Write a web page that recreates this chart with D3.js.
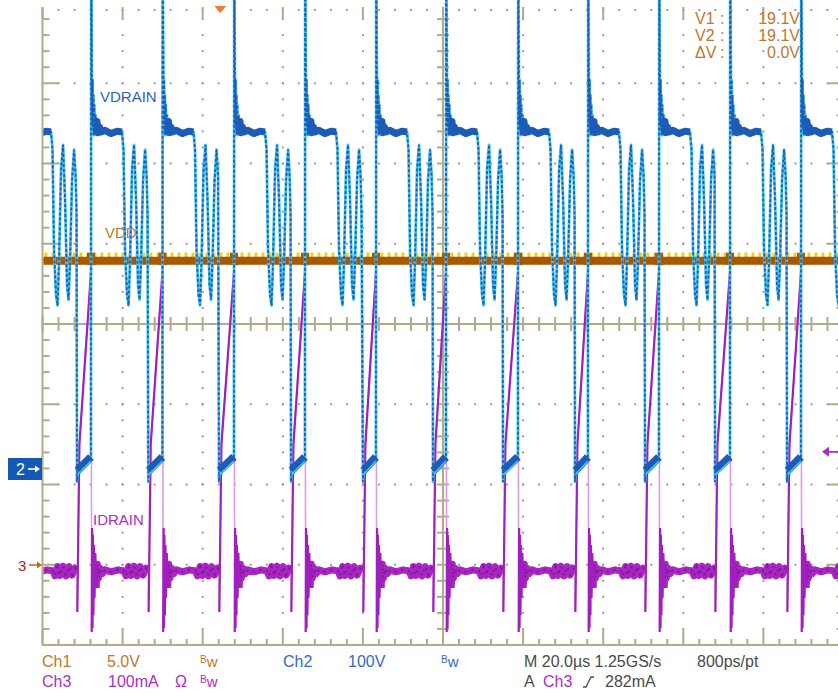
<!DOCTYPE html>
<html>
<head>
<meta charset="utf-8">
<script src="https://cdn.jsdelivr.net/npm/d3@7"></script>
<style>
  html, body { margin: 0; padding: 0; background: #fff; }
  svg { display: block; font-family: "Liberation Sans", Arial, sans-serif; }
</style>
</head>
<body>
<svg id="scope" width="838" height="693"></svg>
<script>
// ---------------- acquisition data ----------------
// time in µs from the left edge of the screen (20 µs/div, 10 div)
const switchOffTimes = [-5.62, 12.11, 29.96, 47.82, 65.54, 83.27, 100.75, 118.73, 136.20, 153.93, 171.66, 189.39, 207.10];
const switchOnTimes  = [8.61, 26.42, 44.07, 62.05, 80.02, 97.50, 114.98, 132.96, 150.44, 167.92, 185.90, 203.62];

// Ch2 VDRAIN after each switch-off: offset (µs) and volts
const drainOffset = [0.05, 0.2, 0.3, 0.4, 0.5, 0.6, 0.7, 0.82, 0.95, 1.12, 1.3, 1.5, 1.75, 2.12, 2.5, 3.5, 5.0, 6.5, 7.75, 8.12, 8.5, 9.0, 9.38, 9.75, 10.25, 10.75, 11.25, 11.75, 12.12, 12.5, 13.0, 13.5, 13.88, 14.12];
const drainVolts  = [650, 510, 429, 485, 422, 466, 416, 454, 419, 441, 417, 433, 419, 426, 420, 422, 418, 421, 420, 398, 273, 217, 204, 260, 373, 404, 335, 229, 211, 260, 360, 398, 366, 317];
const drainPlateau = [1.25, 8.0];            // clamped flat top, µs after switch-off
const drainOnState = [-16, -2, 15];          // V: turn-on undershoot, start and end of conduction

// Ch3 IDRAIN after each switch-off: offset (µs) and mA
const currentOffset = [0.075, 0.175, 0.275, 0.375, 0.475, 0.6, 0.725, 0.875, 1.075, 1.3, 1.575, 1.875, 2.25, 2.75, 3.5, 5.0, 6.75, 8.25, 8.75, 9.375, 10.0, 10.75, 11.5, 12.25, 13.0, 13.75];
const currentMilliamps = [411, -167, 92, -157, 75, -125, 50, -82, 30, -57, 2, -32, -8, -22, -12, -17, -12, -15, -27, -4, -26, -3, -27, -4, -25, -8];
// mA: before turn-on, leading-edge spike, end of fast rise, ramp peak
const currentOnState = [-10, -117, 300, 728];
const currentRiseTime = 0.6;                 // µs after turn-on

// Ch1 VDD
const supplyLevel = 18.95;                   // V
const supplyKick = [19.45, 18.7];            // V at each switch-off
const cursorLevel = 19.1;                    // V1 = V2

// trigger
const triggerTime = 44.4;                    // µs
const triggerLevel = 282;                    // mA

// readouts
const cursorRows = [["V1", "19.1V"], ["V2", "19.1V"], ["ΔV", "0.0V"]];
const settingsRow1 = [
  { x: 42,  text: "Ch1", color: "#c0772f" },
  { x: 107, text: "5.0V", color: "#c0772f" },
  { x: 283, text: "Ch2", color: "#2f6cc4" },
  { x: 348, text: "100V", color: "#2f6cc4" },
  { x: 524, text: "M 20.0µs 1.25GS/s", color: "#4a4a4a" },
  { x: 697, text: "800ps/pt", color: "#4a4a4a" }
];
const settingsRow2 = [
  { x: 42,  text: "Ch3", color: "#ae2ec6" },
  { x: 108, text: "100mA", color: "#ae2ec6" },
  { x: 175, text: "Ω", color: "#ae2ec6" },
  { x: 524, text: "A", color: "#4a4a4a" },
  { x: 543, text: "Ch3", color: "#ae2ec6" },
  { x: 605, text: "282mA", color: "#4a4a4a" }
];
const bwMarks = [
  { x: 200, row: 0, color: "#c0772f" },
  { x: 441, row: 0, color: "#2f6cc4" },
  { x: 200, row: 1, color: "#ae2ec6" }
];

// ---------------- layout ----------------
const X0 = 42.5, X1 = 843.5, Y0 = 3, Y1 = 645;
const divX = (X1 - X0) / 10, divY = (Y1 - Y0) / 8;
const tan = "#b3aa8b", dotCol = "#9c9c9c";

const x = d3.scaleLinear().domain([0, 200]).range([X0, X1]);
const yCh1 = d3.scaleLinear().domain([0, 5]).range([565, 565 - divY]);     // 5 V/div
const yCh2 = d3.scaleLinear().domain([0, 100]).range([469, 469 - divY]);   // 100 V/div
const yCh3 = d3.scaleLinear().domain([0, 200]).range([565, 565 - divY]);   // ref. 200 mA/div

const svg = d3.select("#scope");

// ---------------- graticule ----------------
const grid = svg.append("g");
const xMinor = d3.range(0, 51).map(i => X0 + i * divX / 5);
const yMinor = d3.range(0, 41).map(i => Y0 + i * divY / 5);
const cx = X0 + 5 * divX, cy = Y0 + 4 * divY;

// dotted division lines
const dots = [];
for (let i = 1; i < 10; i++) if (i !== 5) yMinor.forEach(yy => { if (yy > 6) dots.push([X0 + i * divX, yy]); });
for (let j = 1; j < 8; j++) if (j !== 4) xMinor.forEach(xx => dots.push([xx, Y0 + j * divY]));
grid.selectAll("rect.dot").data(dots).join("rect").attr("class", "dot")
  .attr("x", d => d[0] - 1).attr("y", d => d[1] - 1).attr("width", 2).attr("height", 2).attr("fill", dotCol);

// top edge marks
grid.selectAll("rect.top").data(xMinor).join("rect").attr("class", "top")
  .attr("x", d => d - 1).attr("y", 9).attr("width", 2).attr("height", 2).attr("fill", dotCol);
grid.selectAll("line.topMaj").data(d3.range(0, 11)).join("line").attr("class", "topMaj")
  .attr("x1", i => X0 + i * divX).attr("x2", i => X0 + i * divX).attr("y1", 7).attr("y2", 18)
  .attr("stroke", tan).attr("stroke-width", 2);

// left / bottom borders, right edge ticks
grid.append("line").attr("x1", X0).attr("x2", X0).attr("y1", 7).attr("y2", Y1).attr("stroke", tan).attr("stroke-width", 2);
grid.append("line").attr("x1", X0).attr("x2", X1).attr("y1", Y1).attr("y2", Y1).attr("stroke", tan).attr("stroke-width", 2);
yMinor.forEach((yy, i) => {
  if (yy < 8) return;
  const major = i % 5 === 0;
  grid.append("line").attr("x1", X0).attr("x2", X0 + (major ? 16 : 7)).attr("y1", yy).attr("y2", yy).attr("stroke", tan).attr("stroke-width", 2);
  grid.append("line").attr("x1", X1).attr("x2", X1 - (major ? 16 : 7)).attr("y1", yy).attr("y2", yy).attr("stroke", tan).attr("stroke-width", 2);
});
xMinor.forEach((xx, i) => {
  const major = i % 5 === 0;
  grid.append("line").attr("x1", xx).attr("x2", xx).attr("y1", Y1).attr("y2", Y1 - (major ? 15 : 6)).attr("stroke", tan).attr("stroke-width", 2);
});

// centre cross with ticks
grid.append("line").attr("x1", cx).attr("x2", cx).attr("y1", 7).attr("y2", Y1).attr("stroke", tan).attr("stroke-width", 2);
grid.append("line").attr("x1", X0).attr("x2", X1).attr("y1", cy).attr("y2", cy).attr("stroke", tan).attr("stroke-width", 2);
yMinor.forEach(yy => { if (yy > 8) grid.append("line").attr("x1", cx - 6).attr("x2", cx + 6).attr("y1", yy).attr("y2", yy).attr("stroke", tan).attr("stroke-width", 2); });
xMinor.forEach(xx => grid.append("line").attr("x1", xx).attr("x2", xx).attr("y1", cy - 7).attr("y2", cy + 7).attr("stroke", tan).attr("stroke-width", 2));

// ---------------- trace labels ----------------
svg.append("text").attr("x", 100).attr("y", 102).attr("font-size", 15).attr("fill", "#2f63be").text("VDRAIN");
svg.append("text").attr("x", 105).attr("y", 238).attr("font-size", 15).attr("fill", "#c0772f").text("VDD");
svg.append("text").attr("x", 93).attr("y", 525).attr("font-size", 15).attr("fill", "#ae2ec6").text("IDRAIN");

// ---------------- traces ----------------
svg.append("clipPath").attr("id", "screen").append("rect")
  .attr("x", X0 + 1).attr("y", 0).attr("width", X1 - X0).attr("height", Y1 - 1);
const traces = svg.append("g").attr("clip-path", "url(#screen)");

const lineCh1 = d3.line().x(d => x(d[0])).y(d => yCh1(d[1]));
const lineCh2 = d3.line().x(d => x(d[0])).y(d => yCh2(d[1]));
const lineCh3 = d3.line().x(d => x(d[0])).y(d => yCh3(d[1]));

// Ch1 supply with a small kick at each switch-off
const supply = [[-10, supplyLevel]];
switchOffTimes.forEach(t => {
  supply.push([t - 0.05, supplyLevel], [t, supplyKick[0]], [t + 0.08, supplyKick[1]], [t + 0.2, supplyLevel]);
});
supply.push([210, supplyLevel]);

// cursors V1/V2 (both at the same level) drawn under the supply trace
traces.append("path").attr("d", lineCh1([[-10, cursorLevel], [210, cursorLevel]]))
  .attr("fill", "none").attr("stroke", "#f0d21c").attr("stroke-width", 12).attr("stroke-dasharray", "3,4");
traces.append("path").attr("d", lineCh1(supply)).attr("fill", "none")
  .attr("stroke", "#a95700").attr("stroke-width", 8);

// build Ch2 and Ch3 cycles
const drain = [], drainTops = [], drainOn = [];
const current = [], currentRing = [], currentBase = [], currentRamp = [];
switchOnTimes.forEach((tOn, i) => {
  const tOff = switchOffTimes[i], tNext = switchOffTimes[i + 1];
  const top = [];
  drainOffset.forEach((o, k) => {
    if (tOff + o < tOn - 0.03) {
      drain.push([tOff + o, drainVolts[k]]);
      if (o >= drainPlateau[0] && o <= drainPlateau[1]) top.push([tOff + o, drainVolts[k]]);
    }
  });
  drainTops.push(top);
  drain.push([tOn, drainOnState[0]], [tOn + 0.12, drainOnState[1]], [tNext - 0.02, drainOnState[2]]);
  drainOn.push([[tOn + 0.12, drainOnState[1]], [tNext - 0.02, drainOnState[2]]]);

  const ring = [], base = [];
  currentOffset.forEach((o, k) => {
    if (tOff + o < tOn - 0.03) {
      current.push([tOff + o, currentMilliamps[k]]);
      if (o >= 0.15 && o <= 1.3) ring.push([tOff + o, currentMilliamps[k]]);
      if (o >= 1.3) base.push([tOff + o, currentMilliamps[k]]);
    }
  });
  base.push([tOn, currentOnState[0]]);
  currentRing.push(ring);
  currentBase.push(base);
  const ramp = [[tOn + 0.08, currentOnState[1]], [tOn + currentRiseTime, currentOnState[2]], [tNext - 0.02, currentOnState[3]]];
  current.push([tOn, currentOnState[0]], ...ramp);
  currentRamp.push(ramp);
});

// Ch3 IDRAIN
traces.append("path").attr("d", lineCh3(current)).attr("fill", "none")
  .attr("stroke", "#dc9cea").attr("stroke-width", 1.6);
traces.selectAll("path.base").data(currentBase).join("path").attr("class", "base")
  .attr("d", lineCh3).attr("fill", "none").attr("stroke", "#a826c2").attr("stroke-width", 7)
  .attr("stroke-linejoin", "round");
traces.selectAll("path.base2").data(currentBase).join("path").attr("class", "base2")
  .attr("d", lineCh3).attr("fill", "none").attr("stroke", "#7e1696").attr("stroke-width", 2)
  .attr("stroke-dasharray", "2,5");
traces.selectAll("path.ring").data(currentRing).join("path").attr("class", "ring")
  .attr("d", lineCh3).attr("fill", "none").attr("stroke", "#a21fbf").attr("stroke-width", 2.2);
traces.selectAll("path.ramp").data(currentRamp).join("path").attr("class", "ramp")
  .attr("d", lineCh3).attr("fill", "none").attr("stroke", "#a21fbf").attr("stroke-width", 2.2);

// Ch2 VDRAIN
traces.append("path").attr("d", lineCh2(drain)).attr("fill", "none")
  .attr("stroke", "#43c6ec").attr("stroke-width", 2.8).attr("stroke-linejoin", "round");
traces.append("path").attr("d", lineCh2(drain)).attr("fill", "none")
  .attr("stroke", "#1d5cb8").attr("stroke-width", 1.8).attr("stroke-dasharray", "3,2");
traces.selectAll("path.top").data(drainTops).join("path").attr("class", "top")
  .attr("d", lineCh2).attr("fill", "none").attr("stroke", "#1c5bb6").attr("stroke-width", 7)
  .attr("stroke-linejoin", "round");
traces.selectAll("path.on").data(drainOn).join("path").attr("class", "on")
  .attr("d", lineCh2).attr("fill", "none").attr("stroke", "#1c5bb6").attr("stroke-width", 8);
traces.selectAll("path.on2").data(drainOn).join("path").attr("class", "on2")
  .attr("d", lineCh2).attr("fill", "none").attr("stroke", "#43c6ec").attr("stroke-width", 1.5)
  .attr("transform", "translate(0,4)");

// ---------------- markers ----------------
const mk = svg.append("g");
// Ch2 ground marker
mk.append("rect").attr("x", 8).attr("y", yCh2(0) - 11).attr("width", 34).attr("height", 22).attr("fill", "#1559b5");
mk.append("text").attr("x", 16).attr("y", yCh2(0) + 6).attr("font-size", 16).attr("fill", "#fff").text("2");
mk.append("line").attr("x1", 28).attr("x2", 37).attr("y1", yCh2(0)).attr("y2", yCh2(0)).attr("stroke", "#fff").attr("stroke-width", 1.6);
mk.append("path").attr("d", `M40,${yCh2(0)} l-5,-3.5 v7 z`).attr("fill", "#fff");
// Ch3 / Ch1 ground marker
mk.append("text").attr("x", 18).attr("y", yCh3(0) + 6).attr("font-size", 15).attr("fill", "#a3262e").text("3");
mk.append("line").attr("x1", 29).attr("x2", 38).attr("y1", yCh3(0)).attr("y2", yCh3(0)).attr("stroke", "#b8702c").attr("stroke-width", 1.6);
mk.append("path").attr("d", `M42,${yCh3(0)} l-5,-3.5 v7 z`).attr("fill", "#b8702c");
// trigger level arrow (right edge)
const ty = yCh3(triggerLevel);
mk.append("line").attr("x1", 826).attr("x2", 840).attr("y1", ty).attr("y2", ty).attr("stroke", "#a630c0").attr("stroke-width", 1.8);
mk.append("path").attr("d", `M822,${ty} l7,-5 v10 z`).attr("fill", "#a630c0");
// trigger position (top edge)
const tx = x(triggerTime);
mk.append("path").attr("d", `M${tx - 6},6 h12 l-6,7 z`).attr("fill", "#f07a3a");

// ---------------- readouts ----------------
const ro = svg.append("g").attr("font-size", 16).attr("fill", "#c0772f");
cursorRows.forEach((r, i) => {
  const yy = 23.5 + i * 17.4;
  ro.append("text").attr("x", 695).attr("y", yy).text(r[0]);
  ro.append("text").attr("x", 720).attr("y", yy).text(":");
  ro.append("text").attr("x", 800).attr("y", yy).attr("text-anchor", "end").text(r[1]);
});

const rowY = [667, 687];
const info = svg.append("g").attr("font-size", 16);
settingsRow1.forEach(d => info.append("text").attr("x", d.x).attr("y", rowY[0]).attr("fill", d.color).text(d.text));
settingsRow2.forEach(d => info.append("text").attr("x", d.x).attr("y", rowY[1]).attr("fill", d.color).text(d.text));
bwMarks.forEach(d => {
  const t = info.append("text").attr("x", d.x).attr("y", rowY[d.row]).attr("fill", d.color);
  t.append("tspan").attr("font-size", 10).attr("dy", -4).text("B");
  t.append("tspan").attr("font-size", 15).attr("dy", 4).text("w");
});
// rising-edge trigger slope symbol
info.append("path").attr("d", `M583,${rowY[1]} h3 l5,-10 h3`).attr("fill", "none")
  .attr("stroke", "#4a4a4a").attr("stroke-width", 1.3);
</script>
</body>
</html>
